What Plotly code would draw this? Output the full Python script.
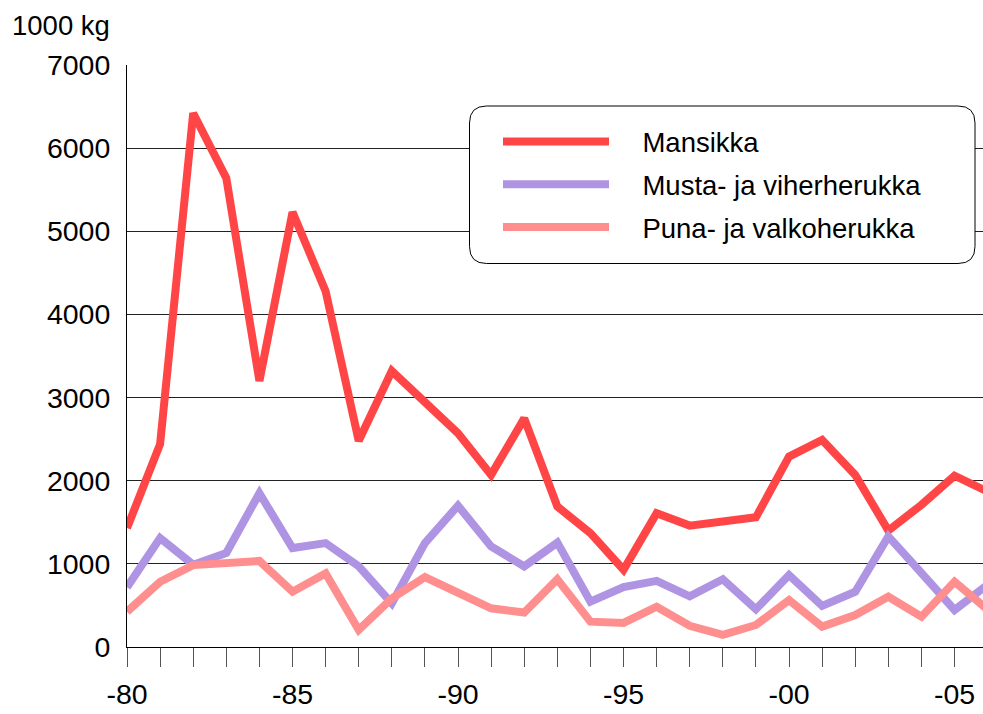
import plotly.graph_objects as go

years = list(range(1980, 2007))
mansikka = [1430, 2440, 6420, 5640, 3200, 5230, 4280, 2480, 3320, 2950, 2570, 2070, 2750, 1690,
            1370, 930, 1610, 1460, 1500, 1560, 2290, 2490, 2070, 1400, 1710, 2060, 1870]
musta = [720, 1310, 990, 1130, 1850, 1190, 1250, 970, 525, 1250, 1700, 1210, 970, 1255,
         545, 720, 795, 610, 815, 455, 865, 495, 665, 1330, 890, 445, 750]
puna = [425, 785, 985, 1015, 1035, 665, 885, 205, 585, 840, 645, 465, 415, 815,
        305, 290, 485, 255, 145, 265, 565, 245, 385, 605, 365, 785, 450]

series_names = ["Mansikka", "Musta- ja viherherukka", "Puna- ja valkoherukka"]
series_colors = ["#FF4545", "#B094E4", "#FF8E8E"]
tick_years = [1980, 1985, 1990, 1995, 2000, 2005]
tick_text = ["-80", "-85", "-90", "-95", "-00", "-05"]
y_ticks = [0, 1000, 2000, 3000, 4000, 5000, 6000, 7000]

FONT = "Liberation Sans, Arial, sans-serif"
PAD = "\u00a0\u00a0\u00a0\u2009"

fig = go.Figure()
for name, vals, col in zip(series_names, [mansikka, musta, puna], series_colors):
    fig.add_trace(go.Scatter(x=years, y=vals, name=PAD + name, mode="lines",
                             line=dict(color=col, width=8), legendgroup=name))

# plot area on screen: x 127..983 px, y 65..647 px
L, R, T, B = 127, 983, 65, 647
W, H = R - L, B - T
def px(x):
    return (x - L) / W
def py(y):
    return (B - y) / H

# rounded legend box
bx0, bx1, by0, by1, r = 469.5, 975, 106, 263.5, 17
x0, x1 = px(bx0), px(bx1)
yt, yb = py(by0), py(by1)
rx, ry = r / W, r / H
path = (f"M{x0+rx},{yt} L{x1-rx},{yt} Q{x1},{yt} {x1},{yt-ry} "
        f"L{x1},{yb+ry} Q{x1},{yb} {x1-rx},{yb} "
        f"L{x0+rx},{yb} Q{x0},{yb} {x0},{yb+ry} "
        f"L{x0},{yt-ry} Q{x0},{yt} {x0+rx},{yt} Z")
fig.add_shape(type="path", path=path, xref="paper", yref="paper",
              line=dict(color="#000000", width=1), fillcolor="white", layer="above")

fig.add_annotation(text="1000 kg", xref="paper", yref="paper", x=px(10), y=py(25),
                   xanchor="left", yanchor="middle", showarrow=False,
                   font=dict(size=27.5, color="#000", family=FONT))

fig.update_layout(
    width=983, height=714,
    margin=dict(l=L, r=983 - R, t=T, b=714 - B),
    paper_bgcolor="white", plot_bgcolor="white",
    font=dict(family=FONT, color="#000"),
    showlegend=True,
    legend=dict(x=px(498), y=py(117), xanchor="left", yanchor="top",
                bgcolor="rgba(0,0,0,0)", borderwidth=0,
                font=dict(size=27.5, family=FONT, color="#000"),
                itemwidth=106, tracegroupgap=4, traceorder="grouped"),
    xaxis=dict(range=[1980, 2005.86], tickvals=tick_years, ticktext=tick_text,
               ticks="outside", ticklen=19, tickcolor="#555", tickwidth=1,
               minor=dict(dtick=1, tick0=1980, ticks="outside", ticklen=19,
                          tickcolor="#555", tickwidth=1, showgrid=False),
               showgrid=False, zeroline=False, showline=True, linecolor="#000",
               linewidth=1, ticklabelstandoff=3,
               tickfont=dict(size=28.5, family=FONT, color="#000"),
               fixedrange=True),
    yaxis=dict(range=[0, 7000], tickvals=y_ticks, ticks="", showgrid=True,
               gridcolor="#222", gridwidth=1, zeroline=False, showline=True,
               linecolor="#000", linewidth=1, ticklabelstandoff=10,
               tickfont=dict(size=28.5, family=FONT, color="#000"), fixedrange=True),
)

fig.write_html("out.html", config={"displayModeBar": False},
               post_script="document.body.style.margin='0';document.body.style.overflow='hidden';")
